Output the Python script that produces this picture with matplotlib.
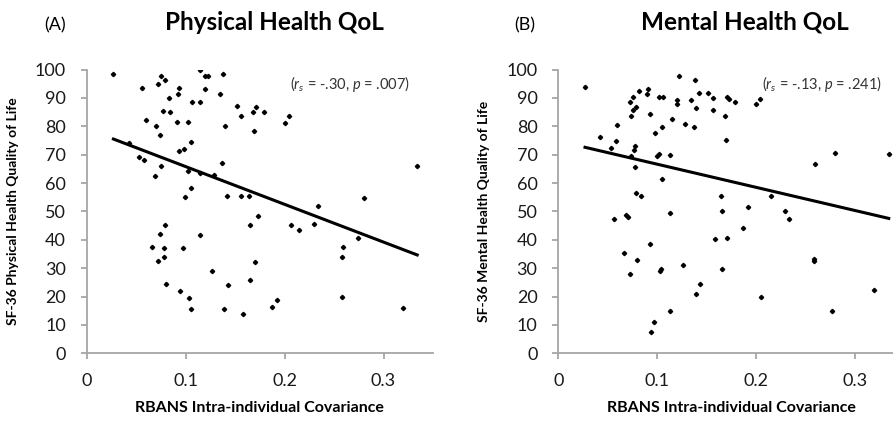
import matplotlib
matplotlib.use("Agg")
import matplotlib.pyplot as plt
import numpy as np

plt.rcParams['font.family'] = ['Lato', 'DejaVu Sans']
plt.rcParams['mathtext.fontset'] = 'custom'
plt.rcParams['mathtext.it'] = 'Lato:italic'
plt.rcParams['mathtext.rm'] = 'Lato'

# Physical health panel: RBANS covariance vs SF-36 physical score
phys_x = [0.027, 0.056, 0.075, 0.079, 0.072, 0.093, 0.092, 0.083, 0.115, 0.120,
          0.123, 0.138, 0.120, 0.135, 0.106, 0.114, 0.077, 0.084, 0.060, 0.091,
          0.102, 0.070, 0.140, 0.074, 0.152, 0.156, 0.168, 0.171, 0.169, 0.043,
          0.053, 0.058, 0.075, 0.069, 0.105, 0.098, 0.093, 0.102, 0.114, 0.129,
          0.137, 0.105, 0.099, 0.142, 0.156, 0.164, 0.173, 0.165, 0.079, 0.074,
          0.114, 0.066, 0.078, 0.097, 0.078, 0.072, 0.170, 0.127, 0.165, 0.080,
          0.143, 0.094, 0.103, 0.105, 0.139, 0.158, 0.179, 0.200, 0.204, 0.334,
          0.280, 0.234, 0.206, 0.215, 0.230, 0.274, 0.259, 0.258, 0.258, 0.192,
          0.187, 0.320]
phys_y = [98.5, 93.6, 97.8, 96.3, 94.9, 93.6, 91.3, 89.9, 99.8, 97.7,
          97.7, 98.5, 93.1, 91.3, 88.6, 88.6, 85.5, 85.0, 82.3, 81.5,
          81.5, 80.1, 80.1, 77.0, 87.2, 83.7, 85.0, 86.8, 78.3, 74.0,
          69.3, 68.1, 66.1, 62.6, 74.4, 72.1, 71.2, 64.3, 63.4, 62.8,
          67.0, 58.1, 55.1, 55.4, 55.4, 55.4, 48.3, 45.1, 45.1, 42.0,
          41.6, 37.6, 37.1, 37.1, 33.9, 32.6, 32.2, 29.0, 25.8, 24.5,
          24.1, 21.9, 19.6, 15.6, 15.6, 13.8, 85.1, 81.0, 83.7, 66.1,
          54.6, 51.9, 45.2, 43.3, 45.6, 40.6, 37.5, 33.9, 20.0, 18.7,
          16.4, 16.0]

# Mental health panel
ment_x = [0.027, 0.122, 0.138, 0.082, 0.091, 0.090, 0.075, 0.072, 0.102, 0.106,
          0.120, 0.120, 0.134, 0.142, 0.151, 0.139, 0.079, 0.075, 0.073, 0.093,
          0.115, 0.059, 0.042, 0.058, 0.053, 0.105, 0.098, 0.128, 0.137, 0.078,
          0.076, 0.073, 0.100, 0.102, 0.113, 0.078, 0.105, 0.079, 0.084, 0.113,
          0.056, 0.068, 0.070, 0.093, 0.066, 0.080, 0.126, 0.104, 0.103, 0.072,
          0.143, 0.139, 0.113, 0.097, 0.094, 0.156, 0.156, 0.171, 0.173, 0.179,
          0.168, 0.200, 0.204, 0.169, 0.280, 0.334, 0.259, 0.164, 0.215, 0.165,
          0.192, 0.229, 0.233, 0.187, 0.158, 0.170, 0.258, 0.258, 0.165, 0.205,
          0.319, 0.277]
ment_y = [93.9, 97.7, 96.2, 92.6, 93.1, 91.3, 90.4, 88.6, 90.4, 90.4,
          89.1, 87.7, 89.1, 91.8, 91.8, 86.4, 86.9, 85.9, 83.7, 84.3,
          82.4, 80.5, 76.1, 74.8, 72.5, 79.7, 77.5, 80.7, 79.7, 73.0,
          71.6, 69.5, 69.4, 70.2, 69.9, 65.7, 61.3, 56.4, 55.4, 49.5,
          47.3, 48.7, 48.1, 38.4, 35.2, 32.9, 31.2, 29.8, 29.0, 28.1,
          24.4, 20.9, 15.0, 11.0, 7.5, 90.0, 85.9, 90.4, 89.6, 88.6,
          83.7, 87.7, 89.5, 75.1, 70.7, 70.2, 66.7, 55.4, 55.4, 50.0,
          51.4, 50.0, 47.3, 44.3, 40.2, 40.6, 33.4, 32.5, 29.8, 20.0,
          22.3, 15.0]

# linear trendlines (slope, intercept) as drawn in the figure
phys_fit = (-133.0, 79.1)
ment_fit = (-81.6, 74.8)

titles = ['Physical Health QoL', 'Mental Health QoL']
panel_tags = ['(A)', '(B)']
ylabels = ['SF-36 Physical Health Quality of Life', 'SF-36 Mental Health Quality of Life']
stats = [r'($r_s$ = -.30, $p$ = .007)', r'($r_s$ = -.13, $p$ = .241)']

fig = plt.figure(figsize=(8.93, 4.22), dpi=100)
ax1 = fig.add_axes([0.0971, 0.1626, 0.3878, 0.6727])
ax2 = fig.add_axes([0.6252, 0.1626, 0.3878, 0.6727])

grey = '#a6a6a6'
panels = [(ax1, phys_x, phys_y, phys_fit), (ax2, ment_x, ment_y, ment_fit)]
for i, (ax, xs, ys, fit) in enumerate(panels):
    ax.plot(xs, ys, 'D', color='black', markersize=2.2, linestyle='none')
    xl = np.array([min(xs), max(xs)])
    ax.plot(xl, fit[0] * xl + fit[1], color='black', linewidth=2.2)

    ax.set_xlim(0, 0.35)
    ax.set_ylim(0, 100)
    ax.set_xticks([0, 0.1, 0.2, 0.3])
    ax.set_xticklabels(['0', '0.1', '0.2', '0.3'])
    ax.set_yticks(range(0, 101, 10))
    for s in ['top', 'right']:
        ax.spines[s].set_visible(False)
    for s in ['left', 'bottom']:
        ax.spines[s].set_color(grey)
        ax.spines[s].set_linewidth(1.3)
    ax.tick_params(colors=grey, labelcolor='#1a1a1a', labelsize=13,
                   length=4, width=1.3)
    ax.tick_params(axis='y', pad=11)
    ax.tick_params(axis='x', pad=10)
    ax.set_xlabel('RBANS Intra-individual Covariance', fontsize=11.5,
                  fontweight='bold', labelpad=9)
    ax.set_ylabel(ylabels[i], fontsize=10, fontweight='bold')
    ax.yaxis.set_label_coords(-0.196, 0.5)
    ax.text(0.327, 95, stats[i], ha='right', va='center', fontsize=10.5,
            color='#333333')

fig.text(274 / 893, 1 - 22 / 422, titles[0], ha='center', va='center',
         fontsize=17.5, fontweight='bold')
fig.text(745 / 893, 1 - 22 / 422, titles[1], ha='center', va='center',
         fontsize=17.5, fontweight='bold')
fig.text(55 / 893, 1 - 25 / 422, panel_tags[0], ha='center', va='center',
         fontsize=13)
fig.text(525 / 893, 1 - 25 / 422, panel_tags[1], ha='center', va='center',
         fontsize=13)

fig.savefig('out.png', dpi=100)
